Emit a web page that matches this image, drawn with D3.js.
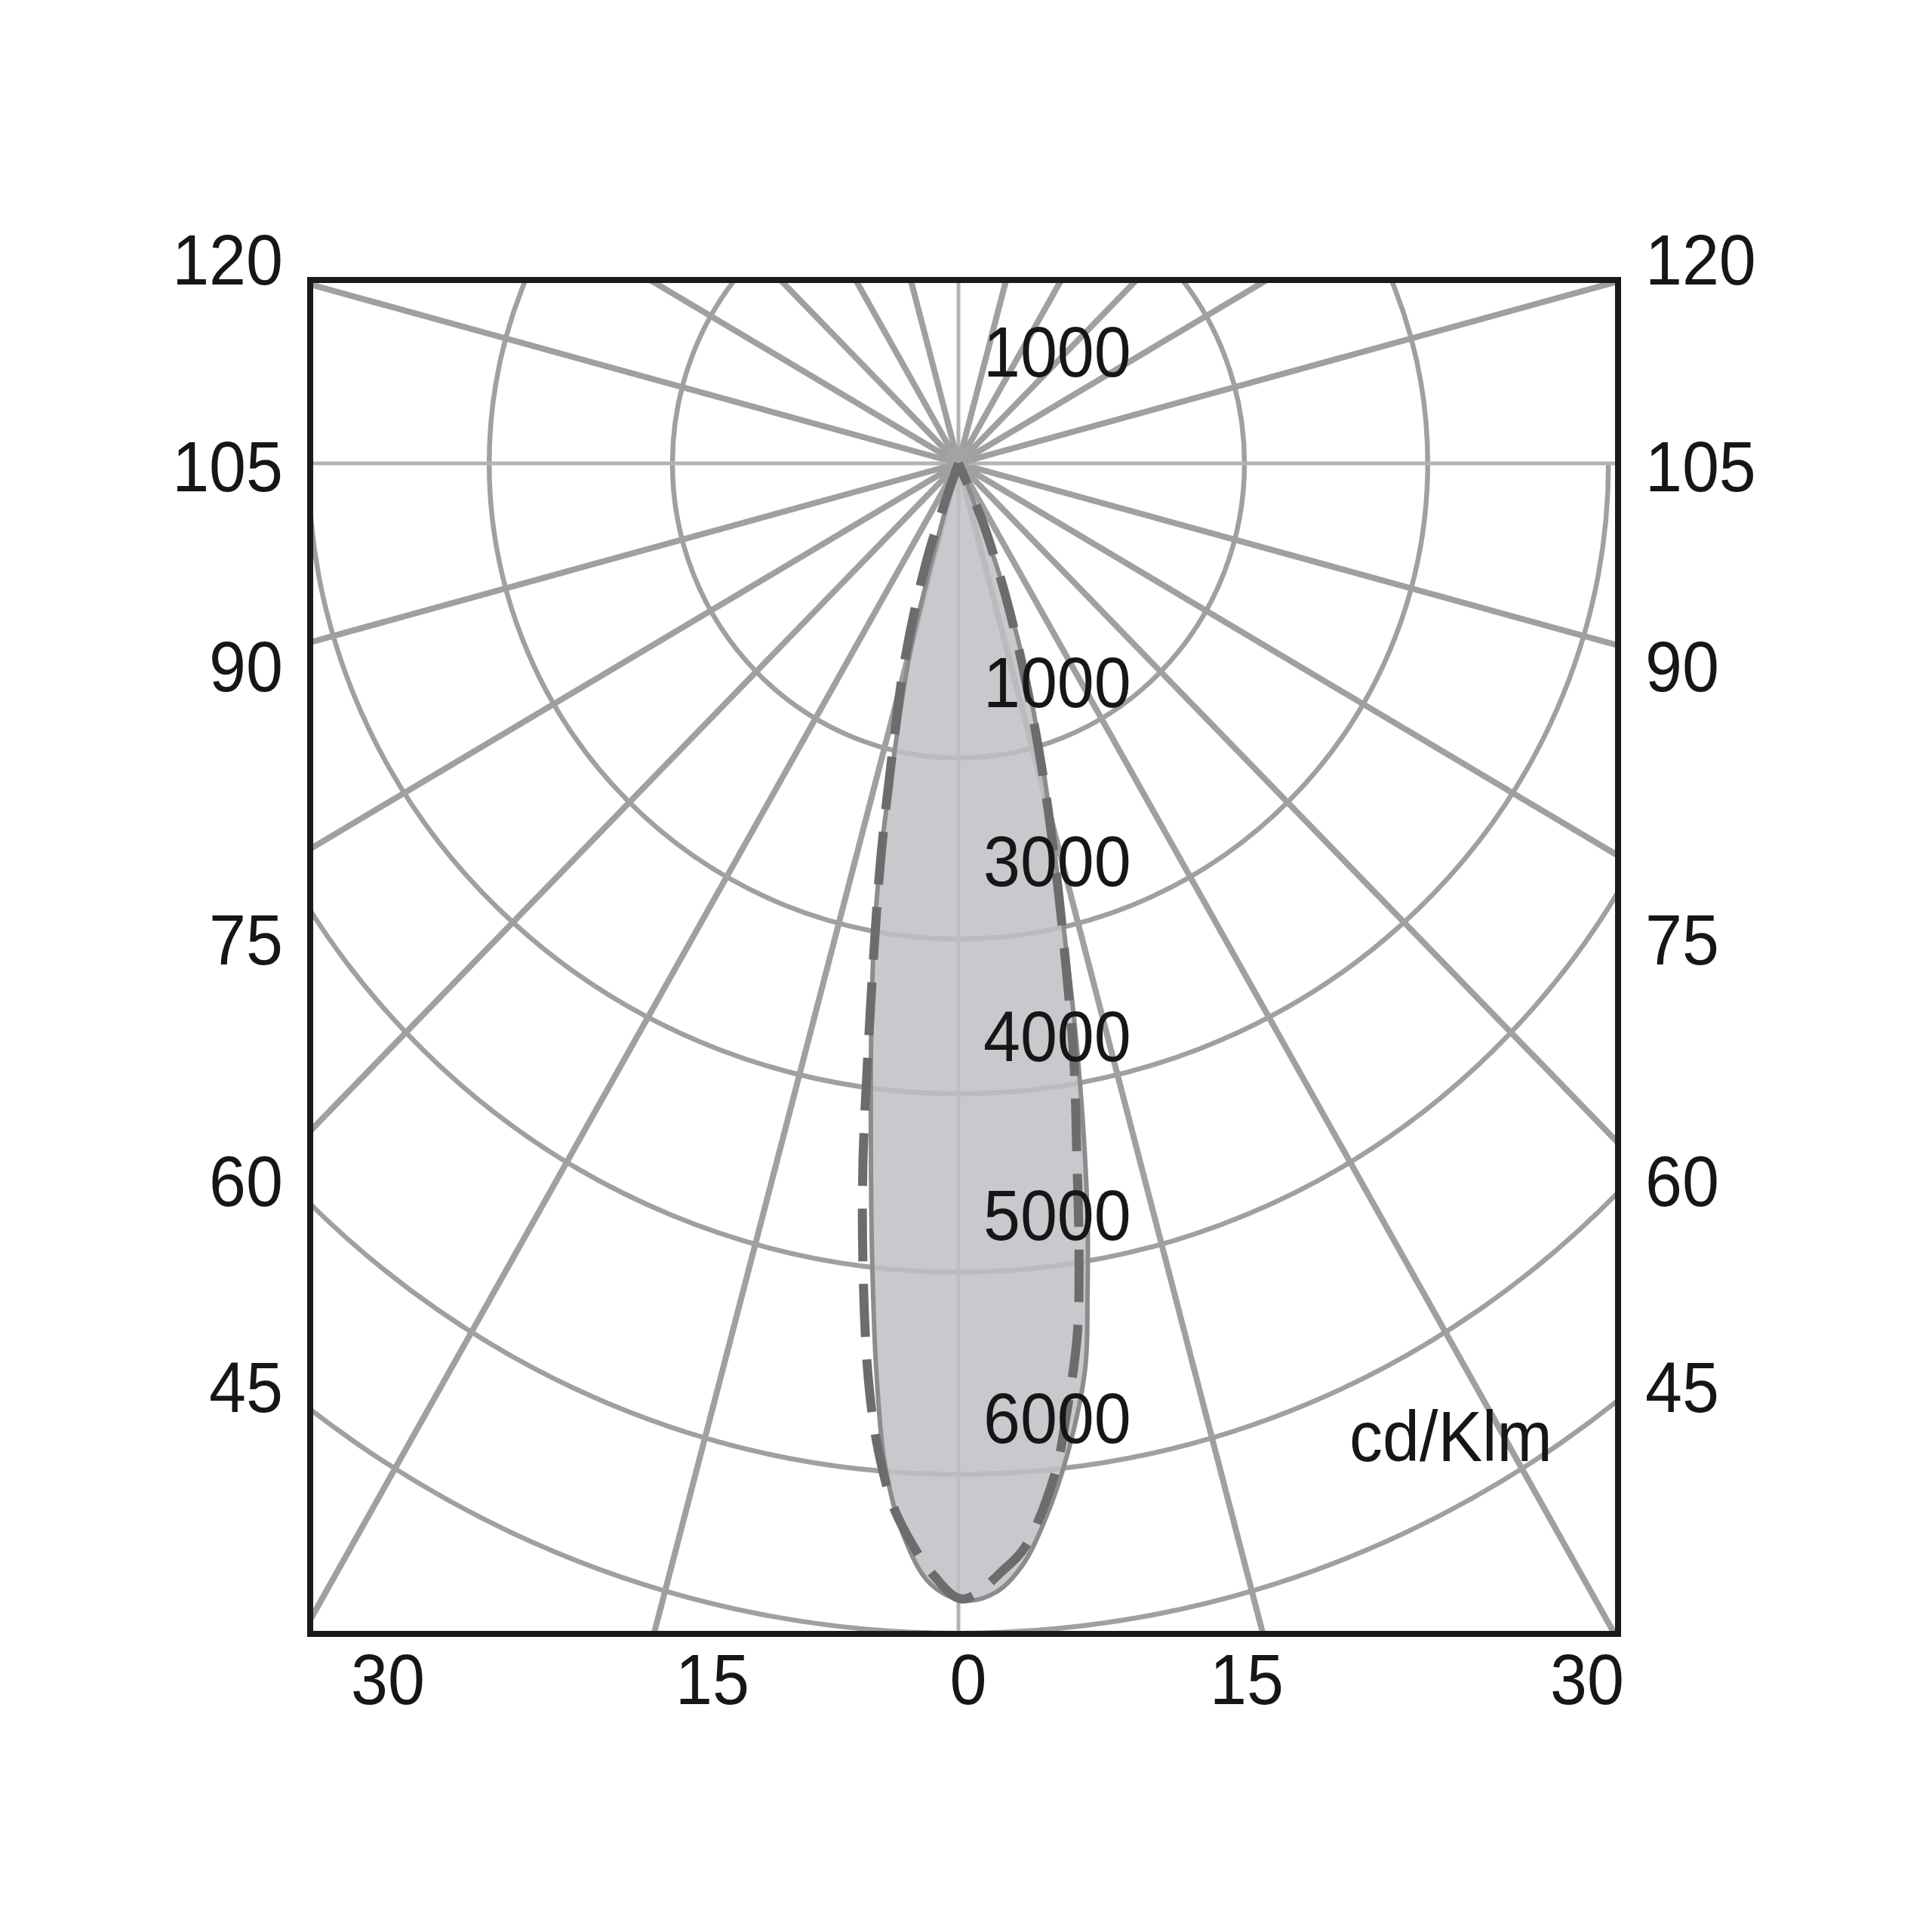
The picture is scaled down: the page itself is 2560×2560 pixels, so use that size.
<!DOCTYPE html>
<html><head><meta charset="utf-8">
<script src="https://cdn.jsdelivr.net/npm/d3@7"></script>
<style>html,body{margin:0;padding:0;background:#fff}</style>
</head><body>
<svg id="chart" width="2560" height="2560"></svg>
<script>
// ---------------- data ----------------
const ringValues = [1000, 3000, 4000, 5000, 6000, 7000];
const ringLabels = ["1000", "3000", "4000", "5000", "6000", ""];
const topRingLabel = "1000";
const spokeAngles = d3.range(0, 360, 15);
const sideLabels = ["120", "105", "90", "75", "60", "45"];
const bottomLabels = ["30", "15", "0", "15", "30"];
const unitLabel = "cd/Klm";

// C0-C180 plane (solid curve): gamma angle in degrees from nadir (negative = left half), intensity in cd/klm
const solidAngles = [-16, -15.7, -14.7, -12.9, -11.7, -10.4, -9.0, -7.6, -6.4, -5.3, -4.3, -3.0, -1.5, 0.3, 2.0, 3.4, 4.8, 6.5, 8.2, 9.1, 10.0, 11.0, 12.0, 13.0, 14.5, 16.4, 18.7, 20.7, 22.4, 23];
const solidValues = [0, 322, 675, 996, 2027, 3035, 3635, 4290, 4938, 5519, 5973, 6399, 6688, 6795, 6743, 6587, 6314, 5922, 5523, 5155, 4757, 4232, 3661, 3074, 2043, 1044, 703, 411, 139, 0];

// C90-C270 plane (dashed curve)
const dashAngles = [-19, -18.8, -15.8, -13.3, -11.45, -10.1, -8.9, -8.0, -7.0, -5.85, -4.9, -3.7, -2.5, -1.3, 0.2, 2.5, 3.7, 5.6, 6.7, 8.0, 8.9, 10.0, 11.25, 12.4, 13.8, 15.5, 17.3, 19.7, 23.0, 24];
const dashValues = [0, 327, 679, 998, 2202, 3137, 3838, 4427, 4988, 5524, 5862, 6209, 6449, 6639, 6784, 6597, 6457, 6030, 5726, 5348, 4965, 4400, 3865, 3262, 2416, 1379, 824, 525, 223, 0];

// ---------------- layout ----------------
const frame = {x0: 411, y0: 371, x1: 2144, y1: 2165};
const pole = {x: 1270, y: 614};
const kY = 1.03;              // vertical stretch of the original drawing
const ringXStretch = [1.0, 1.016, 1.062, 0.99, 0.97, 0.97]; // hand-drawn rings are not quite concentric ellipses
const FS = 88;                // font size
const textStretch = 1.08;     // glyphs are drawn slightly tall
const sideLabelY = [343, 617, 882, 1244, 1564, 1837];
const bottomLabelX = [514, 944, 1283, 1652, 2103];
const bottomLabelY = 2224;
const ringLabelOffset = [101, 104, 77, 77, 76];
const ringLabelX = 1303;

const rScale = d3.scaleLinear()
  .domain([0, ...ringValues])
  .range([0, 379, 612, 811, 1041, 1301, 1505]);

const rad = d => d * Math.PI / 180;
const px = (a, v) => pole.x + rScale(v) * Math.sin(rad(a));
const py = (a, v) => pole.y + kY * rScale(v) * Math.cos(rad(a));

const svg = d3.select("#chart");
svg.append("rect").attr("width", 2560).attr("height", 2560).attr("fill", "#fff");

svg.append("defs").append("clipPath").attr("id", "fr")
  .append("rect").attr("x", frame.x0).attr("y", frame.y0)
  .attr("width", frame.x1 - frame.x0).attr("height", frame.y1 - frame.y0);

const grid = svg.append("g").attr("clip-path", "url(#fr)");

// rings: full ellipse when it fits the frame width, otherwise only its lower half
const halfW = Math.min(pole.x - frame.x0, frame.x1 - pole.x);
grid.selectAll("path.ring").data(ringValues).join("path")
  .attr("class", "ring")
  .attr("d", (d, i) => {
    const rx = rScale(d) * ringXStretch[i], ry = kY * rScale(d);
    const lower = `M${pole.x - rx},${pole.y}A${rx},${ry} 0 0 0 ${pole.x + rx},${pole.y}`;
    return rx < halfW ? lower + `A${rx},${ry} 0 0 0 ${pole.x - rx},${pole.y}Z` : lower;
  })
  .attr("fill", "none").attr("stroke", "#a0a0a0").attr("stroke-width", 6.5);

// spokes
const L = 4000;
grid.selectAll("line.spoke").data(spokeAngles).join("line")
  .attr("class", "spoke")
  .attr("x1", pole.x).attr("y1", pole.y)
  .attr("x2", a => pole.x + L * Math.sin(rad(a)))
  .attr("y2", a => pole.y + kY * L * Math.cos(rad(a)))
  .attr("stroke", a => a % 90 === 0 ? "#b3b3b3" : "#a0a0a0")
  .attr("stroke-width", a => a % 90 === 0 ? 5 : 8);

// hub where the spokes meet
grid.append("circle").attr("cx", pole.x).attr("cy", pole.y - 6).attr("r", 16).attr("fill", "#a3a3a3");

// lobe
const solidPts = solidAngles.map((a, i) => [px(a, solidValues[i]), py(a, solidValues[i])]);
const dashPts = dashAngles.map((a, i) => [px(a, dashValues[i]), py(a, dashValues[i])]);
const lineGen = d3.line().curve(d3.curveCatmullRom.alpha(0.5));

grid.append("path").attr("d", lineGen(solidPts) + "Z")
  .attr("fill", "rgb(190,191,196)").attr("fill-opacity", 0.85).attr("stroke", "none");
grid.append("path").attr("d", lineGen(solidPts))
  .attr("fill", "none").attr("stroke", "#8c8c8c").attr("stroke-width", 6);
grid.append("path").attr("d", lineGen(dashPts))
  .attr("fill", "none").attr("stroke", "#6c6c6c").attr("stroke-width", 12)
  .attr("stroke-dasharray", "70 30");

// frame
svg.append("rect").attr("x", frame.x0).attr("y", frame.y0)
  .attr("width", frame.x1 - frame.x0).attr("height", frame.y1 - frame.y0)
  .attr("fill", "none").attr("stroke", "#1a1a1a").attr("stroke-width", 8);

// text
const txt = svg.append("g").attr("font-family", "'Liberation Sans', Arial, sans-serif")
  .attr("font-size", FS).attr("fill", "#161616");
const base = c => c + 0.358 * FS * textStretch;
const place = (sel, fx, fy) => sel
  .attr("transform", (d, i) => `translate(${fx(d, i)},${fy(d, i)}) scale(1,${textStretch})`);

place(txt.selectAll("text.ls").data(sideLabels).join("text").attr("class", "ls")
  .attr("text-anchor", "end").text(d => d),
  () => frame.x0 - 36, (d, i) => base(sideLabelY[i]));
place(txt.selectAll("text.rs").data(sideLabels).join("text").attr("class", "rs")
  .attr("text-anchor", "start").text(d => d),
  () => frame.x1 + 36, (d, i) => base(sideLabelY[i]));
place(txt.selectAll("text.bt").data(bottomLabels).join("text").attr("class", "bt")
  .attr("text-anchor", "middle").text(d => d),
  (d, i) => bottomLabelX[i], () => base(bottomLabelY));
place(txt.selectAll("text.rl").data(ringLabels.filter(d => d)).join("text").attr("class", "rl")
  .text(d => d),
  () => ringLabelX, (d, i) => base(pole.y + kY * rScale(ringValues[i]) - ringLabelOffset[i]));
place(txt.append("text").datum(topRingLabel).text(d => d),
  () => ringLabelX, () => base(pole.y - 149));
place(txt.append("text").datum(unitLabel).text(d => d),
  () => 1788, () => base(1902));
</script>
</body></html>
